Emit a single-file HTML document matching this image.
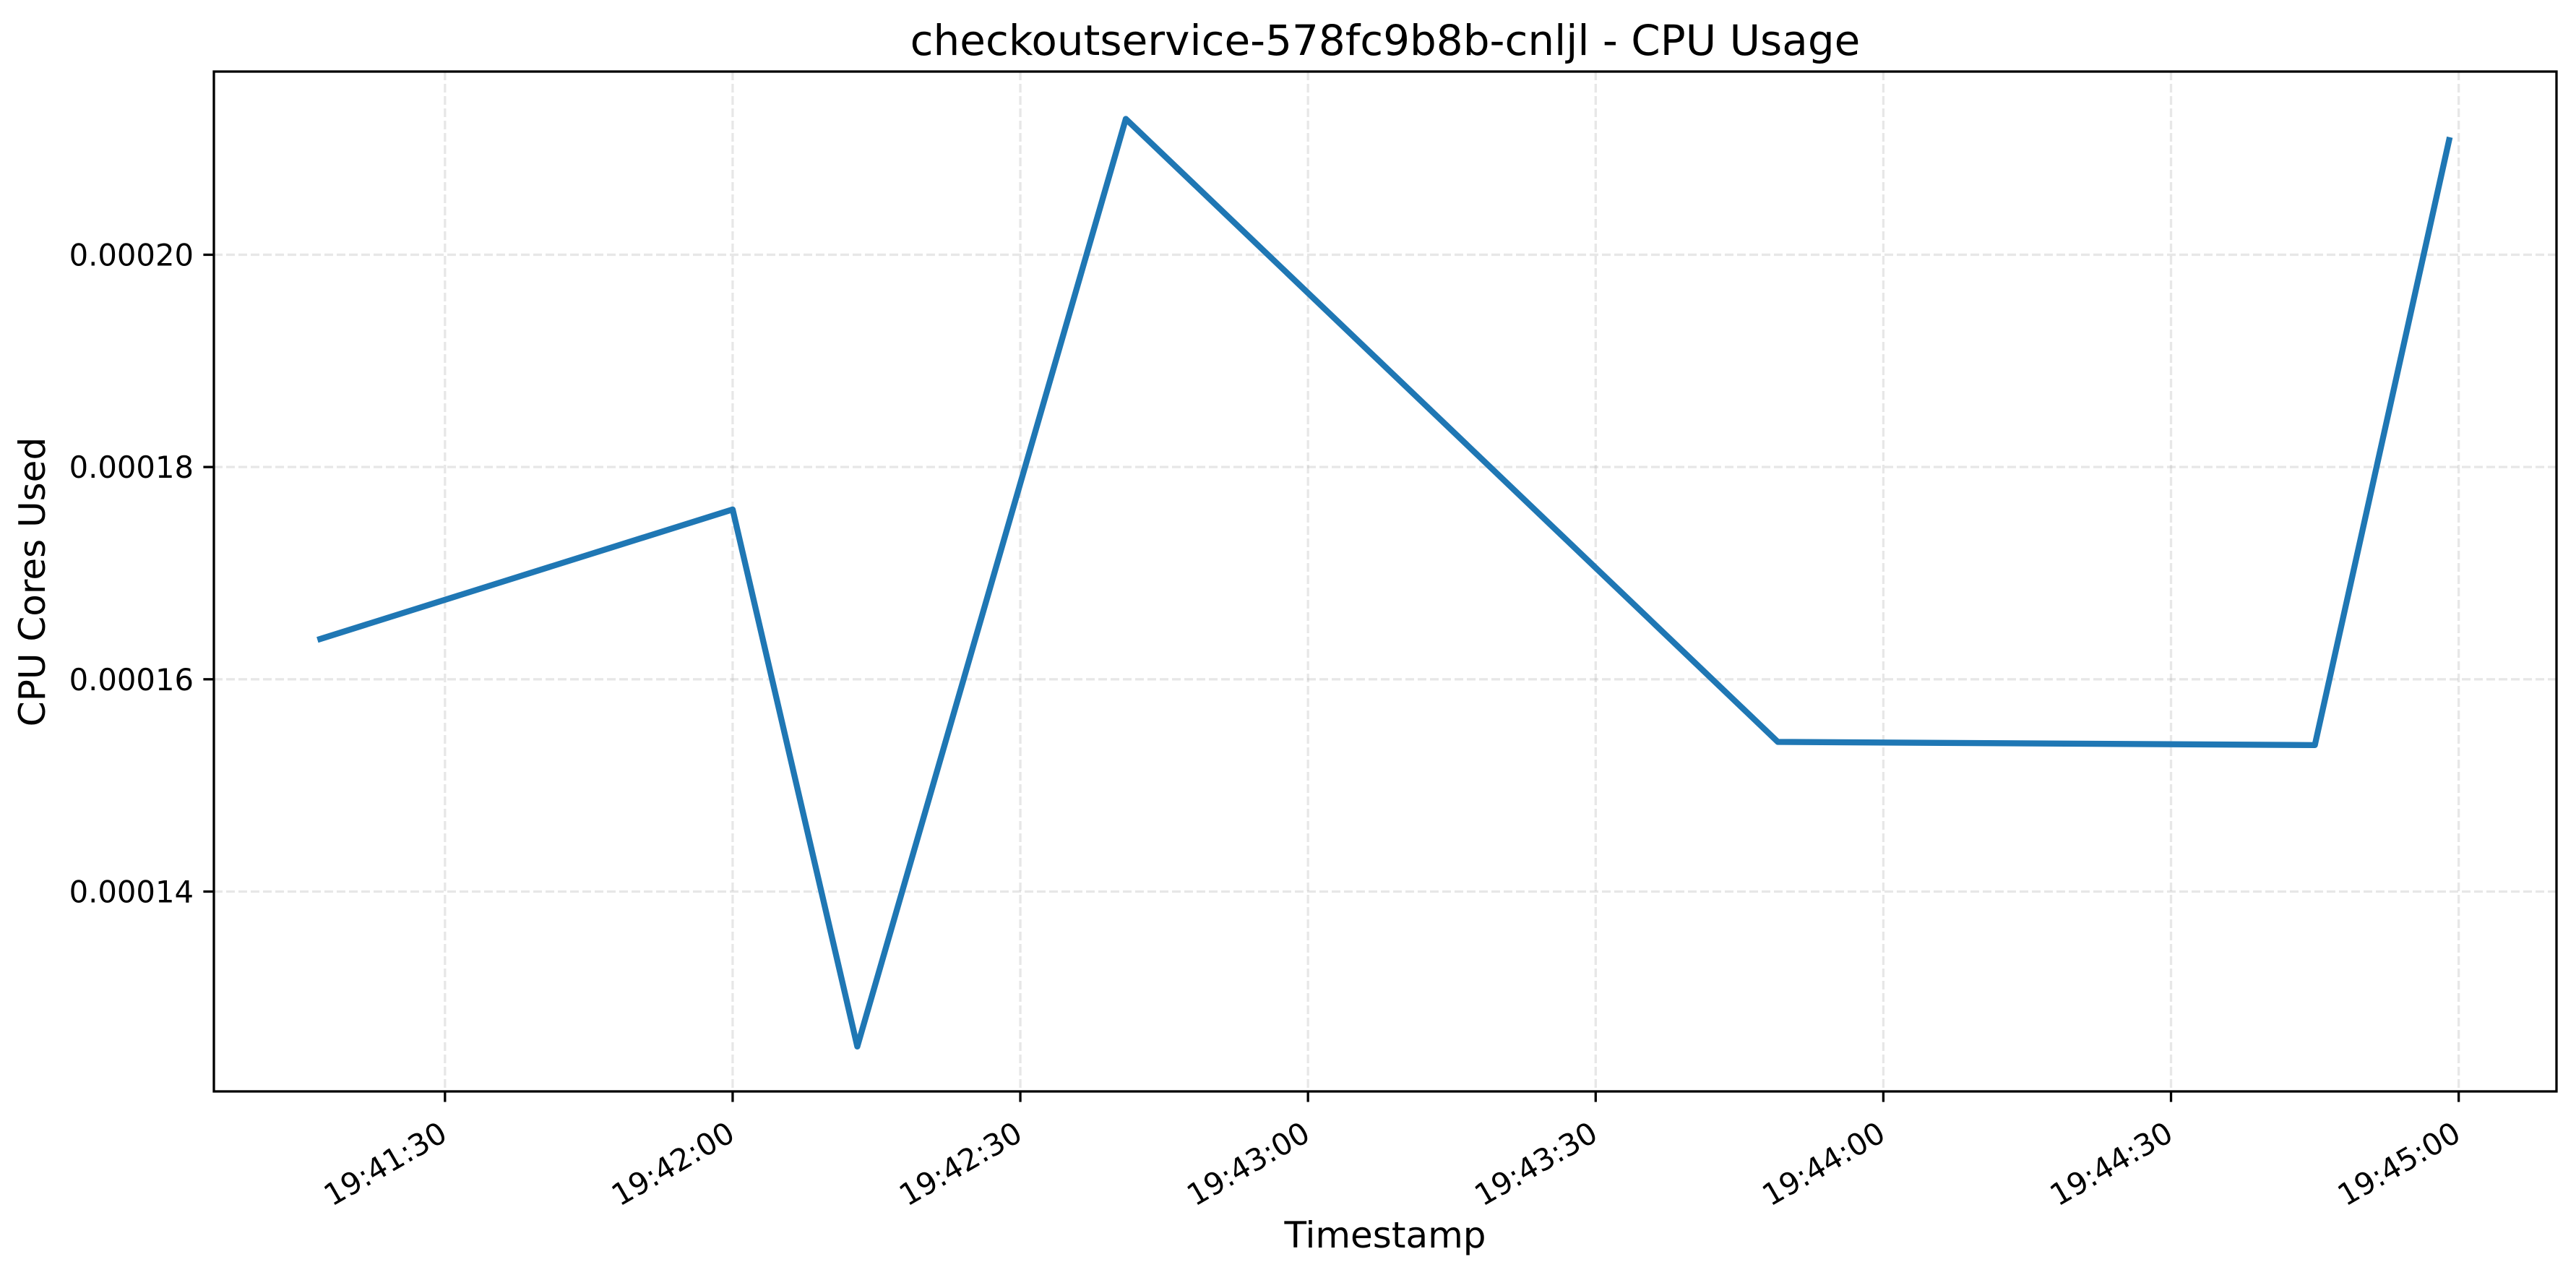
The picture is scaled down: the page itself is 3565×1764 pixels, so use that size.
<!DOCTYPE html>
<html><head><meta charset="utf-8"><style>
html,body{margin:0;padding:0;background:#fff;}
svg{display:block;font-family:"DejaVu Sans","Liberation Sans",sans-serif;}
</style></head><body>
<svg id="chart" width="3565" height="1764" viewBox="0 0 3565 1764" xmlns="http://www.w3.org/2000/svg">
<rect width="3565" height="1764" fill="#fff"/>
<text x="1917" y="76" font-size="58" text-anchor="middle" fill="#000">checkoutservice-578fc9b8b-cnljl - CPU Usage</text>
<g id="grid"></g>
<g id="series"></g>
<rect x="296" y="99" width="3242" height="1411" fill="none" stroke="#000" stroke-width="3.3"/>
<g id="xaxis"></g>
<g id="yaxis"></g>
<text x="1917" y="1726" font-size="50" text-anchor="middle" fill="#000">Timestamp</text>
<text transform="translate(62,805) rotate(-90)" font-size="50" text-anchor="middle" fill="#000">CPU Cores Used</text>
</svg>
<script>
// seconds after 19:41:00
const times = [17, 60, 73, 101, 169, 225, 239];
const cpuValues = [0.0001638, 0.000176, 0.0001254, 0.0002128, 0.0001541, 0.0001538, 0.0002108];
const xTickSeconds = [30, 60, 90, 120, 150, 180, 210, 240];
const xTickLabels = ["19:41:30","19:42:00","19:42:30","19:43:00","19:43:30","19:44:00","19:44:30","19:45:00"];
const yTickValues = [0.00014, 0.00016, 0.00018, 0.00020];
const yTickLabels = ["0.00014","0.00016","0.00018","0.00020"];

const L=296,R=3538,T=99,B=1510;
const xMin=5.9,xMax=250.2,yMin=0.00012117,yMax=0.00021726;
const xs=t=>L+(t-xMin)/(xMax-xMin)*(R-L);
const ys=v=>B-(v-yMin)/(yMax-yMin)*(B-T);
const NS="http://www.w3.org/2000/svg";
function mk(tag,attrs,parent){const e=document.createElementNS(NS,tag);for(const k in attrs)e.setAttribute(k,attrs[k]);parent.appendChild(e);return e;}
const grid=document.getElementById('grid'),xa=document.getElementById('xaxis'),ya=document.getElementById('yaxis'),ser=document.getElementById('series');
xTickSeconds.forEach((s,i)=>{
  const x=xs(s);
  const g=mk('line',{x1:x,x2:x,y1:T,y2:B,stroke:'#b0b0b0','stroke-opacity':'0.3','stroke-width':3.3,'stroke-dasharray':'12 5'},grid);
  
  
  const t=mk('line',{x1:x,x2:x,y1:B,y2:B+14.6,stroke:'#000','stroke-width':3.3},xa);
  
  
  const lb=mk('text',{transform:`translate(${x-10},1549) rotate(-30)`,'font-size':41.7,'text-anchor':'end','dominant-baseline':'hanging',fill:'#000'},xa);
  lb.textContent=xTickLabels[i];
  
  
});
yTickValues.forEach((v,i)=>{
  const y=ys(v);
  const g=mk('line',{x1:L,x2:R,y1:y,y2:y,stroke:'#b0b0b0','stroke-opacity':'0.3','stroke-width':3.3,'stroke-dasharray':'12 5'},grid);
  
  
  const t=mk('line',{x1:L-14.6,x2:L,y1:y,y2:y,stroke:'#000','stroke-width':3.3},ya);
  
  
  const lb=mk('text',{x:L-28,y:y+15,'font-size':41.7,'text-anchor':'end',fill:'#000'},ya);
  lb.textContent=yTickLabels[i];
  
  
});
const pts=times.map((t,i)=>xs(t)+','+ys(cpuValues[i])).join(' ');
const pl=mk('polyline',{points:pts,fill:'none',stroke:'#1f77b4','stroke-width':8.3,'stroke-linejoin':'round','stroke-linecap':'square'},ser);


</script>
</body></html>
